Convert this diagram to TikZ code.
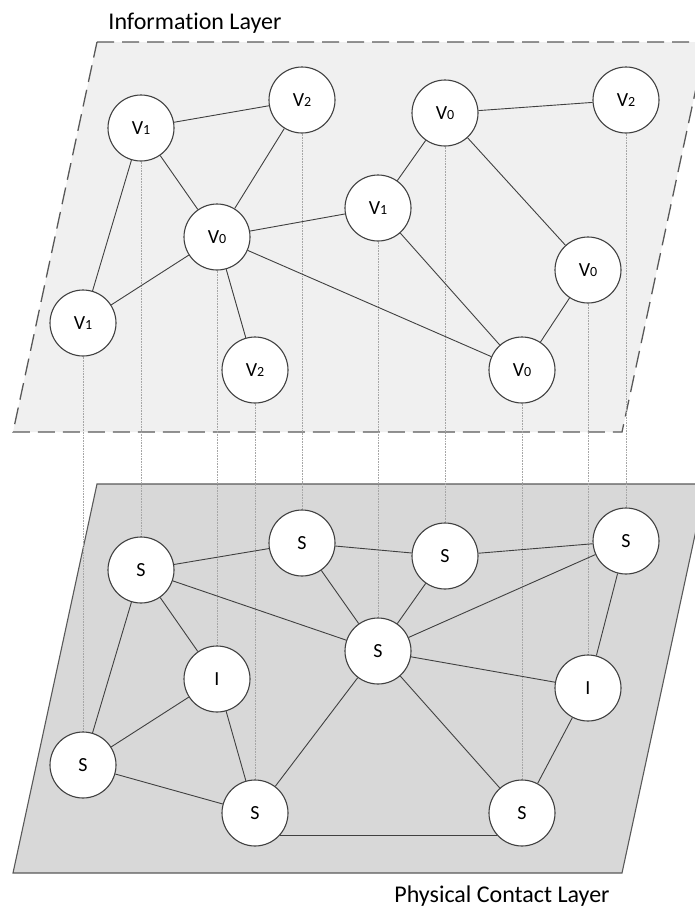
\documentclass[tikz,border=0pt]{standalone}
\usepackage{fontspec}
\setmainfont[Ligatures=NoCommon]{Carlito}
\definecolor{edgegray}{HTML}{404040}
\definecolor{planeline}{HTML}{595959}
\definecolor{infofill}{HTML}{F0F0F0}
\definecolor{physfill}{HTML}{D8D8D8}
\pgfdeclarelayer{planes}
\pgfdeclarelayer{links}
\pgfsetlayers{planes,links,main}
\newcommand{\vlab}[2]{#1{\fontsize{14pt}{14pt}\selectfont #2}}
\begin{document}
\begin{tikzpicture}[x=1pt, y=-1pt,
  agent/.style={circle, draw=edgegray, line width=1.1pt, fill=white, minimum size=66pt, inner sep=0pt, font=\fontsize{20pt}{20pt}\selectfont},
  link/.style={draw=edgegray, line width=0.9pt},
  proj/.style={draw=gray!70, densely dotted, line width=0.6pt},
  layertitle/.style={font=\fontsize{24pt}{24pt}\selectfont}]
\useasboundingbox (0,0) rectangle (695,908);
\clip (0,0) rectangle (695,908);

% Titles
\node[layertitle] (infotitle) at (195,23) {Information Layer};
\node[layertitle] (phystitle) at (502,896) {Physical Contact Layer};

% Information layer
\node[agent] (va) at (141,128) {\vlab{V}{1}};
\node[agent] (vb) at (302,100) {\vlab{V}{2}};
\node[agent] (vc) at (217,237) {\vlab{V}{0}};
\node[agent] (vd) at (445,113) {\vlab{V}{0}};
\node[agent] (ve) at (626,100) {\vlab{V}{2}};
\node[agent] (vf) at (378,208) {\vlab{V}{1}};
\node[agent] (vg) at (83,323)  {\vlab{V}{1}};
\node[agent] (vh) at (255,370) {\vlab{V}{2}};
\node[agent] (vi) at (588,270) {\vlab{V}{0}};
\node[agent] (vj) at (522,370) {\vlab{V}{0}};

% Physical contact layer
\node[agent] (sa) at (141,570) {S};
\node[agent] (sb) at (302,543) {S};
\node[agent] (sc) at (217,679) {I};
\node[agent] (sd) at (445,556) {S};
\node[agent] (se) at (626,541) {S};
\node[agent] (sf) at (378,651) {S};
\node[agent] (sg) at (83,765)  {S};
\node[agent] (sh) at (255,813) {S};
\node[agent] (si) at (588,688) {I};
\node[agent] (sj) at (522,813) {S};

% Planes
\begin{pgfonlayer}{planes}
\filldraw[fill=infofill, draw=planeline, line width=1.3pt, dash pattern=on 17pt off 8pt]
  (97,42) -- (706,42) -- (622,432) -- (13,432) -- cycle;
\filldraw[fill=physfill, draw=planeline, line width=1.1pt]
  (97,484) -- (706,484) -- (622,873) -- (13,873) -- cycle;
\end{pgfonlayer}

\begin{pgfonlayer}{links}
% Projections
\foreach \n in {a,...,j}
  \draw[proj] (v\n) -- (s\n);

% Information links
\foreach \u/\w in {a/b, a/c, a/g, b/c, c/f, c/g, c/h, c/j, f/d, f/j, d/e, d/i, i/j}
  \draw[link] (v\u) -- (v\w);

% Contact links
\foreach \u/\w in {a/b, a/f, a/c, a/g, b/d, b/f, d/e, d/f, e/f, e/i, f/i, f/h, f/j, c/g, c/h, g/h, i/j}
  \draw[link] (s\u) -- (s\w);
\draw[link] (sh.-42) -- (sj.-138);
\end{pgfonlayer}
\end{tikzpicture}
\end{document}
